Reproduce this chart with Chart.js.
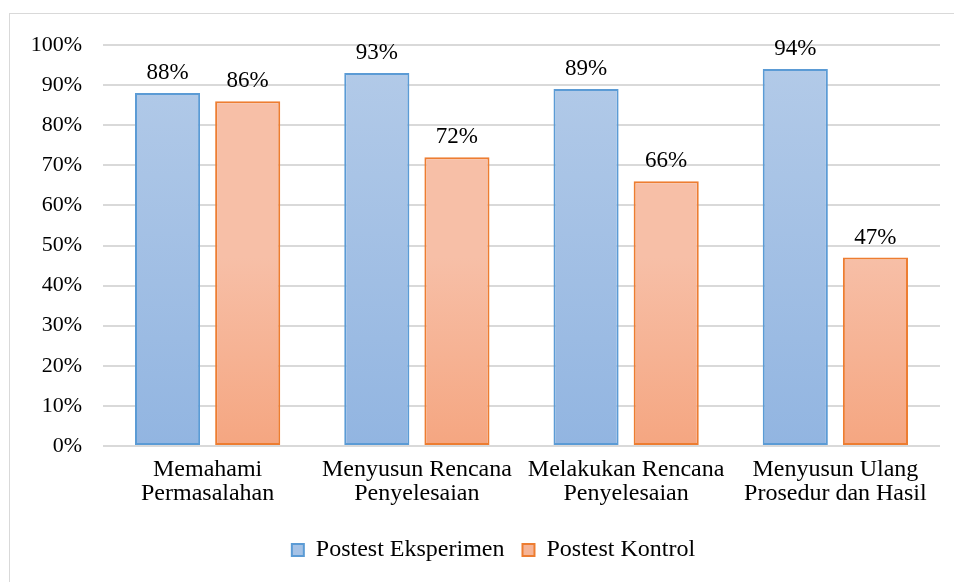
<!DOCTYPE html>
<html>
<head>
<meta charset="utf-8">
<script src="https://cdn.jsdelivr.net/npm/chart.js@4.4.1/dist/chart.umd.min.js"></script>
<style>
  html, body { margin: 0; padding: 0; background: #fff; }
  #wrap { position: relative; width: 954px; height: 582px; }
</style>
</head>
<body>
<div id="wrap"><canvas id="grafica" width="954" height="582"></canvas></div>
<script>
// Datos de la gráfica
const kategori = [
  ['Memahami', 'Permasalahan'],
  ['Menyusun Rencana', 'Penyelesaian'],
  ['Melakukan Rencana', 'Penyelesaian'],
  ['Menyusun Ulang', 'Prosedur dan Hasil']
];
const eksperimen = [88, 93, 89, 94];
const kontrol = [86, 72, 66, 47];
const labelSeri = ['Postest Eksperimen', 'Postest Kontrol'];

const familia = '"Liberation Serif", "Times New Roman", serif';
const fuenteY = { family: familia, size: 22 };
const fuenteX = { family: familia, size: 24, lineHeight: 1.0 };
const fuenteLeyenda = { family: familia, size: 24 };

// gradiente por barra (claro arriba, más intenso abajo)
const tonos = [
  ['rgb(178,202,232)', 'rgb(146,181,225)'],
  ['rgb(247,191,167)', 'rgb(245,166,129)']
];

const pluginBarras = {
  id: 'pluginBarras',
  afterLayout(chart) {
    // la leyenda va centrada respecto al marco, no al lienzo
    if (chart.legend) chart.legend.left += 38;
  },
  beforeDatasetDraw(chart, args) {
    const ctx = chart.ctx;
    const meta = args.meta;
    const t = tonos[args.index];
    meta.data.forEach(el => {
      const g = ctx.createLinearGradient(0, el.y, 0, el.base);
      g.addColorStop(0, t[0]);
      g.addColorStop(1, t[1]);
      el.options.backgroundColor = g;
    });
  },
  afterDatasetsDraw(chart) {
    const ctx = chart.ctx;
    ctx.save();
    ctx.font = '23px ' + familia;
    ctx.fillStyle = '#000';
    ctx.textAlign = 'center';
    ctx.textBaseline = 'middle';
    chart.data.datasets.forEach((ds, i) => {
      chart.getDatasetMeta(i).data.forEach((el, j) => {
        ctx.fillText(ds.data[j] + '%', el.x, el.y - 20);
      });
    });
    ctx.restore();
  },
  beforeDraw(chart) {
    const ctx = chart.ctx;
    ctx.save();
    ctx.strokeStyle = '#d9d9d9';
    ctx.lineWidth = 1;
    ctx.strokeRect(9.5, 13.5, 970, 600);
    ctx.restore();
  }
};

new Chart(document.getElementById('grafica'), {
  type: 'bar',
  data: {
    labels: kategori,
    datasets: [
      {
        label: labelSeri[0],
        data: eksperimen,
        backgroundColor: 'rgb(165,194,230)',
        borderColor: '#5B9BD5',
        borderWidth: 2,
        borderSkipped: false
      },
      {
        label: labelSeri[1],
        data: kontrol,
        backgroundColor: 'rgb(246,180,150)',
        borderColor: '#ED7D31',
        borderWidth: 2,
        borderSkipped: false
      }
    ]
  },
  options: {
    responsive: false,
    animation: false,
    categoryPercentage: 0.766,
    barPercentage: 0.8125,
    layout: { padding: { left: 9, top: 45, right: 14, bottom: 10 } },
    plugins: {
      legend: {
        position: 'bottom',
        labels: {
          font: fuenteLeyenda,
          color: '#000',
          boxWidth: 12,
          boxHeight: 12,
          padding: 18
        }
      },
      tooltip: { enabled: false }
    },
    scales: {
      x: {
        grid: { display: false, drawTicks: false },
        border: { display: false },
        ticks: { font: fuenteX, color: '#000', padding: 12, maxRotation: 0, autoSkip: false },
        afterFit(scale) { scale.height = 74; }
      },
      y: {
        min: 0,
        max: 100,
        ticks: {
          stepSize: 10,
          font: fuenteY,
          color: '#000',
          padding: 21,
          callback: v => v + '%'
        },
        grid: { color: '#d9d9d9', lineWidth: 2, drawTicks: false },
        border: { display: false },
        afterFit(scale) { scale.width = 94; }
      }
    }
  },
  plugins: [pluginBarras]
});
</script>
</body>
</html>
